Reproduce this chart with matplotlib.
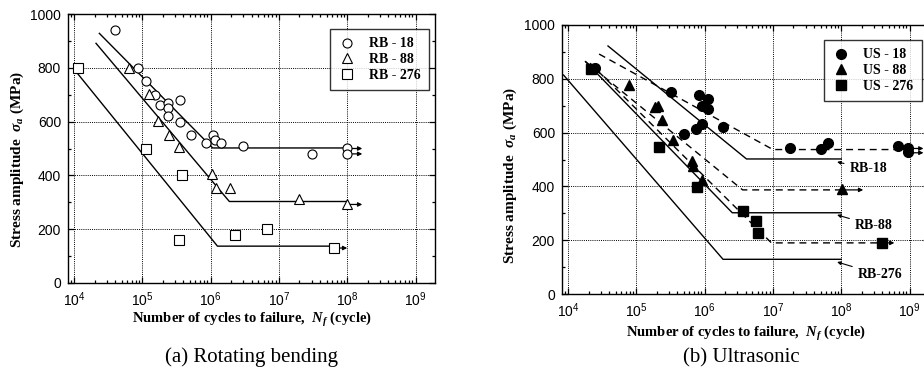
import matplotlib
matplotlib.use('Agg')
import matplotlib.pyplot as plt
from matplotlib.ticker import FixedLocator, MultipleLocator, NullFormatter

# (a) rotating bending - measured points
rb18_n = [4.0e4, 8.6e4, 1.12e5, 1.55e5, 1.8e5, 2.35e5, 2.4e5, 2.35e5, 3.6e5, 3.6e5,
          5.2e5, 8.5e5, 1.1e6, 1.17e6, 1.4e6, 2.95e6, 3.0e7, 1.0e8, 1.0e8]
rb18_s = [940, 800, 750, 700, 660, 671, 651, 620, 682, 600,
          551, 519, 551, 531, 521, 510, 481, 502, 479]
rb88_n = [6.3e4, 1.27e5, 1.7e5, 2.5e5, 3.47e5, 1.05e6, 1.18e6, 1.94e6, 1.95e7, 1.0e8]
rb88_s = [801, 701, 602, 552, 504, 404, 354, 354, 313, 292]
rb276_n = [1.13e4, 1.14e5, 3.8e5, 3.4e5, 2.24e6, 6.6e6, 6.3e7]
rb276_s = [801, 500, 401, 159, 180, 200, 130]

# (a) S-N lines (start, knee, end)
rb18_line_n = [2.35e4, 1.07e6, 1.0e8]
rb18_line_s = [928, 502, 502]
rb88_line_n = [2.1e4, 1.88e6, 1.0e8]
rb88_line_s = [891, 303, 303]
rb276_line_n = [1.0e4, 1.26e6, 6.3e7]
rb276_line_s = [795, 137, 137]

# (a) run-out arrows: start N, end N, stress
a_runout_start = [1.0e8, 1.0e8, 1.0e8, 6.3e7]
a_runout_end = [1.66e8, 1.66e8, 1.66e8, 1.0e8]
a_runout_s = [500, 480, 292, 130]

# (b) ultrasonic - measured points
us18_n = [2.5e4, 3.2e5, 8.3e5, 1.12e6, 9.1e5, 1.12e6, 5.0e5, 7.4e5, 9.1e5, 1.87e6,
          1.8e7, 5.1e7, 6.4e7, 6.7e8, 9.5e8, 9.5e8]
us18_s = [842, 750, 741, 726, 698, 688, 593, 615, 632, 620,
          544, 540, 563, 549, 542, 527]
us88_n = [7.7e4, 1.86e5, 2.1e5, 2.35e5, 3.4e5, 6.6e5, 6.8e5, 9.1e5, 1.02e8]
us88_s = [778, 695, 700, 648, 572, 494, 475, 425, 389]
us276_n = [2.14e4, 2.13e5, 7.8e5, 3.6e6, 5.7e6, 6.0e6, 4.0e8]
us276_s = [838, 546, 398, 307, 272, 228, 191]

# (b) RB reference lines (solid) and US lines (dashed)
b_rb18_n = [3.85e4, 4.1e6, 1.0e8]
b_rb18_s = [922, 502, 502]
b_rb88_n = [1.8e4, 2.54e6, 1.0e8]
b_rb88_s = [864, 302, 302]
b_rb276_n = [8.6e3, 1.86e6, 1.0e8]
b_rb276_s = [814, 129, 129]
us18_line_n = [2.85e4, 1.0e7, 1.0e9]
us18_line_s = [892, 537, 537]
us88_line_n = [1.8e4, 3.6e6, 1.0e8]
us88_line_s = [864, 387, 387]
us276_line_n = [2.1e4, 9.5e6, 4.0e8]
us276_line_s = [858, 190, 190]

b_runout_start = [1.0e9, 1.0e9, 1.0e8, 4.0e8]
b_runout_end = [1.6e9, 1.6e9, 2.1e8, 6.0e8]
b_runout_s = [541, 525, 387, 190]

# (b) labels for the RB lines: text, arrow tip (N, S), text pos (N, S)
rb_labels = ['RB-18', 'RB-88', 'RB-276']
rb_label_tip_n = [8.7e7, 8.7e7, 8.7e7]
rb_label_tip_s = [491, 294, 119]
rb_label_txt_n = [1.32e8, 1.58e8, 1.74e8]
rb_label_txt_s = [465, 254, 71]

plt.rcParams['font.family'] = ['Liberation Sans', 'DejaVu Sans']
plt.rcParams['mathtext.fontset'] = 'custom'
plt.rcParams['mathtext.rm'] = 'Liberation Serif:bold'
plt.rcParams['mathtext.it'] = 'Liberation Serif:bold:italic'
plt.rcParams['mathtext.bf'] = 'Liberation Serif:bold'

serif_bold = dict(family='Liberation Serif', weight='bold')

fig = plt.figure(figsize=(9.24, 3.72), dpi=100)
ax_a = fig.add_axes([68 / 924, 1 - 283 / 372, 367 / 924, 269 / 372])
ax_b = fig.add_axes([562 / 924, 1 - 294 / 372, 367 / 924, 269 / 372])


def style_axes(ax):
    ax.set_xscale('log')
    ax.set_xlim(10 ** 3.912, 10 ** 9.285)
    ax.set_ylim(0, 1000)
    ax.xaxis.set_major_locator(FixedLocator([10.0 ** k for k in range(4, 10)]))
    ax.set_xticklabels([r'$\mathregular{10^{%d}}$' % k for k in range(4, 10)])
    minors = [m * 10.0 ** k for k in range(3, 10) for m in range(2, 10)]
    ax.xaxis.set_minor_locator(FixedLocator(minors))
    ax.xaxis.set_minor_formatter(NullFormatter())
    ax.yaxis.set_major_locator(MultipleLocator(200))
    ax.yaxis.set_minor_locator(MultipleLocator(100))
    ax.tick_params(which='both', direction='in', top=True, right=True,
                   labelsize=10, width=0.9)
    ax.tick_params(which='major', length=4.5, pad=5)
    ax.tick_params(which='minor', length=2.5)
    ax.grid(True, which='major', linestyle=(0, (1, 1.2)), color='black', linewidth=0.7)
    for sp in ax.spines.values():
        sp.set_linewidth(1.0)


def runout(ax, n0, n1, s):
    ax.annotate('', xy=(n1, s), xytext=(n0, s),
                arrowprops=dict(arrowstyle='-|>', color='black', lw=0.9,
                                mutation_scale=6, shrinkA=0, shrinkB=0))


# ---- (a) Rotating bending
style_axes(ax_a)
for n, s in [(rb18_line_n, rb18_line_s), (rb88_line_n, rb88_line_s),
             (rb276_line_n, rb276_line_s)]:
    ax_a.plot(n, s, color='black', lw=1.0, zorder=2)
for n0, n1, s in zip(a_runout_start, a_runout_end, a_runout_s):
    runout(ax_a, n0, n1, s)
ax_a.plot(rb18_n, rb18_s, 'o', ms=6.5, mfc='white', mec='black', mew=0.8,
          ls='none', label='RB - 18', zorder=3)
ax_a.plot(rb88_n, rb88_s, '^', ms=7.5, mfc='white', mec='black', mew=0.8,
          ls='none', label='RB - 88', zorder=3)
ax_a.plot(rb276_n, rb276_s, 's', ms=6.5, mfc='white', mec='black', mew=0.8,
          ls='none', label='RB - 276', zorder=3)
leg = ax_a.legend(loc='upper right', bbox_to_anchor=(0.984, 0.944),
                  prop=dict(family='Liberation Serif', weight='bold', size=10),
                  frameon=True, fancybox=False, edgecolor='black',
                  handlelength=1.2, handletextpad=1.0, labelspacing=0.2,
                  borderpad=0.6, borderaxespad=0)
leg.get_frame().set_linewidth(1.0)

ax_a.text(0.5, -0.1375, r'Number of cycles to failure,  $N_f$ (cycle)',
          transform=ax_a.transAxes, ha='center', va='center', size=10.5, **serif_bold)
ax_a.text(-0.139, 0.46, r'Stress amplitude  $\sigma_a$ (MPa)', rotation=90,
          transform=ax_a.transAxes, ha='center', va='center', size=11, **serif_bold)

# ---- (b) Ultrasonic
style_axes(ax_b)
for n, s in [(b_rb18_n, b_rb18_s), (b_rb88_n, b_rb88_s), (b_rb276_n, b_rb276_s)]:
    ax_b.plot(n, s, color='black', lw=1.0, zorder=2)
for n, s in [(us18_line_n, us18_line_s), (us88_line_n, us88_line_s),
             (us276_line_n, us276_line_s)]:
    ax_b.plot(n, s, color='black', lw=1.0, ls=(0, (5, 3.5)), zorder=2)
for n0, n1, s in zip(b_runout_start, b_runout_end, b_runout_s):
    runout(ax_b, n0, n1, s)
ax_b.plot(us18_n, us18_s, 'o', ms=7, color='black', ls='none', label='US - 18', zorder=3)
ax_b.plot(us88_n, us88_s, '^', ms=7.5, color='black', ls='none', label='US - 88', zorder=3)
ax_b.plot(us276_n, us276_s, 's', ms=6.5, color='black', ls='none', label='US - 276', zorder=3)
for txt, tn, ts, xn, xs in zip(rb_labels, rb_label_tip_n, rb_label_tip_s,
                               rb_label_txt_n, rb_label_txt_s):
    ax_b.annotate(txt, xy=(tn, ts), xytext=(xn, xs), ha='left', va='center',
                  size=10, **serif_bold,
                  arrowprops=dict(arrowstyle='-|>', color='black', lw=0.8,
                                  mutation_scale=5, shrinkA=2, shrinkB=0))
leg = ax_b.legend(loc='upper right', bbox_to_anchor=(0.98, 0.944),
                  prop=dict(family='Liberation Serif', weight='bold', size=10),
                  frameon=True, fancybox=False, edgecolor='black',
                  handlelength=1.2, handletextpad=1.0, labelspacing=0.2,
                  borderpad=0.6, borderaxespad=0)
leg.get_frame().set_linewidth(1.0)

ax_b.text(0.5, -0.145, r'Number of cycles to failure,  $N_f$ (cycle)',
          transform=ax_b.transAxes, ha='center', va='center', size=10.5, **serif_bold)
ax_b.text(-0.142, 0.44, r'Stress amplitude  $\sigma_a$ (MPa)', rotation=90,
          transform=ax_b.transAxes, ha='center', va='center', size=11, **serif_bold)

fig.text(251.5 / 924, 1 - 357 / 372, '(a) Rotating bending', ha='center', va='center',
         family='Liberation Serif', size=15)
fig.text(741 / 924, 1 - 358 / 372, '(b) Ultrasonic', ha='center', va='center',
         family='Liberation Serif', size=15)

fig.savefig('out.png', dpi=100)
